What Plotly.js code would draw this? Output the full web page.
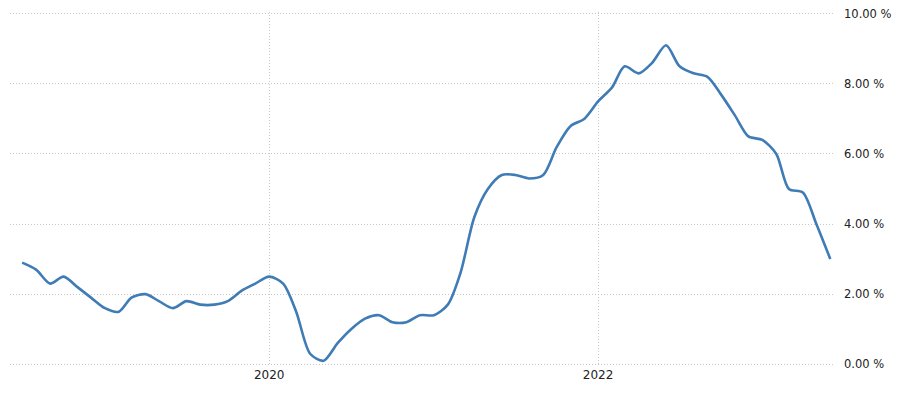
<!DOCTYPE html>
<html>
<head>
<meta charset="utf-8">
<script src="https://cdn.plot.ly/plotly-3.0.1.min.js"></script>
<style>html,body{margin:0;padding:0;background:#fff;}#chart{width:900px;height:396px;}</style>
</head>
<body>
<div id="chart"></div>
<script>
const months = [
  "2018-07-01","2018-08-01","2018-09-01","2018-10-01","2018-11-01","2018-12-01",
  "2019-01-01","2019-02-01","2019-03-01","2019-04-01","2019-05-01","2019-06-01",
  "2019-07-01","2019-08-01","2019-09-01","2019-10-01","2019-11-01","2019-12-01",
  "2020-01-01","2020-02-01","2020-03-01","2020-04-01","2020-05-01","2020-06-01",
  "2020-07-01","2020-08-01","2020-09-01","2020-10-01","2020-11-01","2020-12-01",
  "2021-01-01","2021-02-01","2021-03-01","2021-04-01","2021-05-01","2021-06-01",
  "2021-07-01","2021-08-01","2021-09-01","2021-10-01","2021-11-01","2021-12-01",
  "2022-01-01","2022-02-01","2022-03-01","2022-04-01","2022-05-01","2022-06-01",
  "2022-07-01","2022-08-01","2022-09-01","2022-10-01","2022-11-01","2022-12-01",
  "2023-01-01","2023-02-01","2023-03-01","2023-04-01","2023-05-01","2023-06-01"
];
const inflation = [
  2.9,2.7,2.3,2.5,2.2,1.9,
  1.6,1.5,1.9,2.0,1.8,1.6,
  1.8,1.7,1.7,1.8,2.1,2.3,
  2.5,2.3,1.5,0.3,0.1,0.6,
  1.0,1.3,1.4,1.2,1.2,1.4,
  1.4,1.7,2.6,4.2,5.0,5.4,
  5.4,5.3,5.4,6.2,6.8,7.0,
  7.5,7.9,8.5,8.3,8.6,9.1,
  8.5,8.3,8.2,7.7,7.1,6.5,
  6.4,6.0,5.0,4.9,4.0,3.0
];
const yTicks = [0,2,4,6,8,10];

const trace = {
  x: months, y: inflation, type: 'scatter', mode: 'lines',
  line: {color: '#3f7cb6', width: 2.6, shape: 'spline', smoothing: 0.8},
  hoverinfo: 'x+y'
};
const layout = {
  width: 900, height: 396,
  margin: {l: 10, r: 67, t: 12, b: 30},
  paper_bgcolor: '#fff', plot_bgcolor: '#fff',
  showlegend: false,
  font: {family: 'DejaVu Sans, Verdana, sans-serif', size: 11, color: '#222'},
  xaxis: {
    type: 'date', range: ['2018-06-04', '2023-06-07'],
    tick0: '2020-01-01', dtick: 'M24', tickformat: '%Y',
    showgrid: true, gridcolor: '#c8c8c8', griddash: '1px,2px', gridwidth: 1,
    zeroline: false, showline: false, ticks: '',
    tickfont: {size: 12, color: '#222'}
  },
  yaxis: {
    side: 'right', range: [-0.05, 10.05], tickvals: yTicks,
    ticktext: yTicks.map(v => v.toFixed(2) + ' %'),
    showgrid: true, gridcolor: '#c8c8c8', griddash: '1px,2px', gridwidth: 1,
    zeroline: false, showline: false, ticks: '', ticklabelstandoff: 10,
    tickfont: {size: 11.5, color: '#222'}
  }
};
Plotly.newPlot('chart', [trace], layout, {displayModeBar: false, staticPlot: true});
</script>
</body>
</html>
